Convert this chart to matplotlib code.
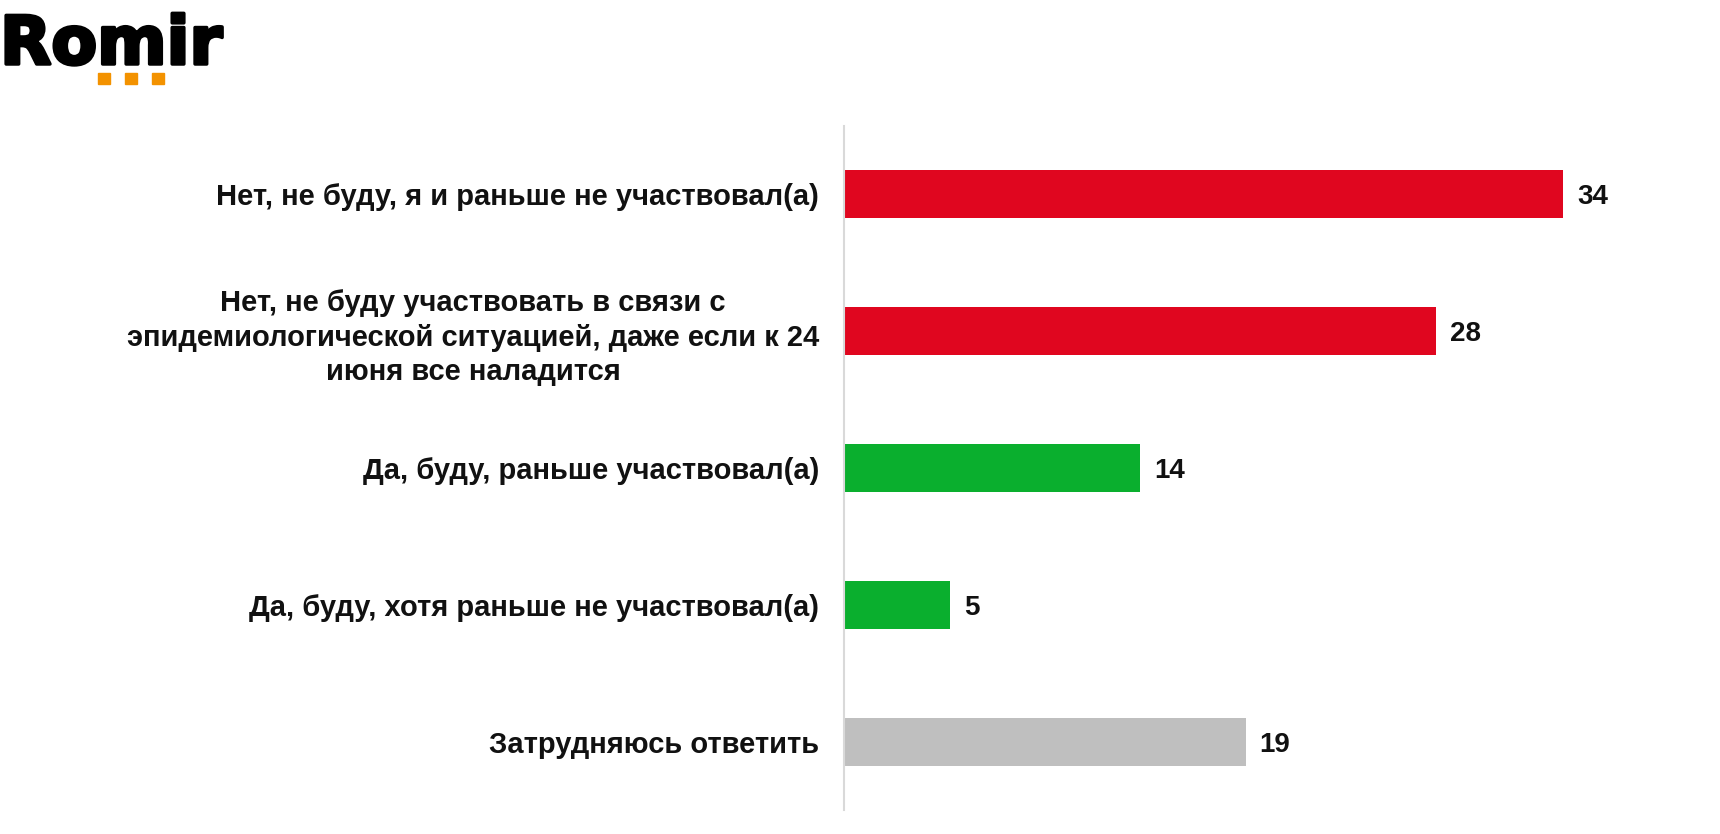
import matplotlib
matplotlib.use("Agg")
import matplotlib.pyplot as plt
import matplotlib.patheffects as pe
from matplotlib.patches import Rectangle

categories = [
    "Нет, не буду, я и раньше не участвовал(а)",
    "Нет, не буду участвовать в связи с\nэпидемиологической ситуацией, даже если к 24\nиюня все наладится",
    "Да, буду, раньше участвовал(а)",
    "Да, буду, хотя раньше не участвовал(а)",
    "Затрудняюсь ответить",
]
values = [34, 28, 14, 5, 19]
colors = ["#E0061F", "#E0061F", "#0AAF2E", "#0AAF2E", "#BFBFBF"]

W, H = 1720, 834
fig = plt.figure(figsize=(W / 100, H / 100), dpi=100)
fig.patch.set_facecolor("white")

ax_left = 844 / W
ax_top = 126 / H
ax_bot = 810 / H
ax = fig.add_axes([ax_left, 1 - ax_bot, 1 - ax_left, ax_bot - ax_top])
px_per_unit = 21.15
ax.set_xlim(0, (W - 844) / px_per_unit)
ax.set_ylim(4.5, -0.5)

ypos = list(range(len(categories)))
ax.barh(ypos, values, height=0.35, color=colors, zorder=2)

for y, v in zip(ypos, values):
    ax.annotate(str(v), (v, y), xytext=(10, 0), textcoords="offset points",
                ha="left", va="center_baseline", fontsize=20, fontweight="bold",
                family="Liberation Sans", color="#111111")

ax.set_yticks(ypos)
ax.set_yticklabels(categories, fontsize=21, fontweight="bold", family="Liberation Sans",
                   color="#111111", linespacing=1.3)
for lab in ax.get_yticklabels():
    lab.set_multialignment("center")
ax.tick_params(axis="y", length=0, pad=18)
ax.set_xticks([])
for s in ["top", "right", "bottom"]:
    ax.spines[s].set_visible(False)
ax.spines["left"].set_color("#D9D9D9")
ax.spines["left"].set_linewidth(1.5)

# logo
fig.text(0, 1 - 64 / H, "Romir", fontsize=48, fontweight="bold",
         family="DejaVu Sans", color="#000000", ha="left", va="baseline",
         path_effects=[pe.withStroke(linewidth=2.5, foreground="#000000")])
for x0 in [98, 125, 152]:
    fig.patches.append(Rectangle((x0 / W, 1 - 84 / H), 12 / W, 11 / H,
                                 transform=fig.transFigure, color="#F39200"))

fig.savefig("out.png", dpi=100, facecolor="white")
